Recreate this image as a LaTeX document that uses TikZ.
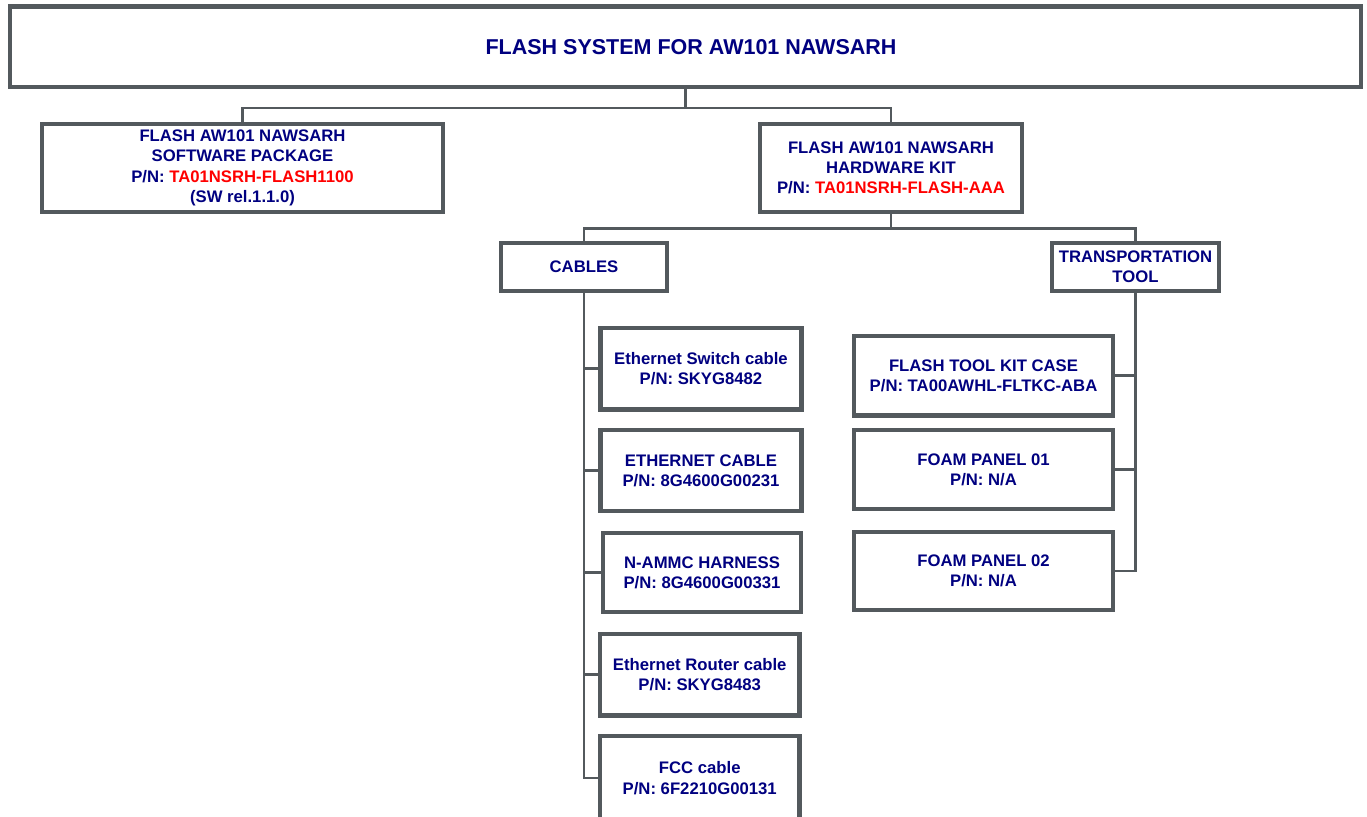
\documentclass[tikz,border=0pt]{standalone}
\usepackage{fontspec}
\setmainfont{Liberation Sans}
\definecolor{linegray}{HTML}{53595D}
\definecolor{txtnavy}{HTML}{000080}
\definecolor{pnred}{HTML}{FF0000}
\begin{document}
\begin{tikzpicture}[x=1pt,y=-1pt,
  box/.style={draw=linegray, line width=4.3pt, fill=white, inner sep=0pt, align=center,
    text=txtnavy, font=\bfseries\fontsize{16.7}{20.3}\selectfont},
  conn/.style={draw=linegray, line width=2.6pt}]
\useasboundingbox (0,0) rectangle (1367,816);
% nodes
\node[box, minimum width=1351pt, minimum height=80.5pt, font=\bfseries\fontsize{21.5}{25}\selectfont] (top) at (685.5,46.75) {\hspace*{11pt}FLASH SYSTEM FOR AW101 NAWSARH};
\node[box, minimum width=401pt, minimum height=88pt] (sw) at (242.5,168) {FLASH AW101 NAWSARH\\ SOFTWARE PACKAGE\\P/N: \textcolor{pnred}{TA01NSRH-FLASH1100}\\(SW rel.1.1.0)};
\node[box, minimum width=262pt, minimum height=88pt] (hw) at (891,168) {FLASH AW101 NAWSARH\\HARDWARE KIT\\P/N: \textcolor{pnred}{TA01NSRH-FLASH-AAA}};
\node[box, minimum width=166.5pt, minimum height=47.5pt] (cables) at (584,267) {CABLES};
\node[box, minimum width=167pt, minimum height=47.5pt] (trans) at (1135.5,267) {TRANSPORTATION\\TOOL};
\node[box, minimum width=201pt, minimum height=81.5pt] (c1) at (701,368.75) {Ethernet Switch cable\\P/N: SKYG8482};
\node[box, minimum width=201pt, minimum height=81pt] (c2) at (701,470.5) {ETHERNET CABLE\\P/N: 8G4600G00231};
\node[box, minimum width=198pt, minimum height=79pt] (c3) at (702,572.5) {N-AMMC HARNESS\\P/N: 8G4600G00331};
\node[box, minimum width=199.5pt, minimum height=81.5pt] (c4) at (699.75,674.75) {Ethernet Router cable\\P/N: SKYG8483};
\node[box, minimum width=199.5pt, minimum height=84pt] (c5) at (699.75,778) {FCC cable\\P/N: 6F2210G00131};
\node[box, minimum width=259pt, minimum height=79.5pt] (t1) at (983.5,375.75) {FLASH TOOL KIT CASE\\P/N: TA00AWHL-FLTKC-ABA};
\node[box, minimum width=259pt, minimum height=79pt] (t2) at (983.5,469.5) {FOAM PANEL 01\\P/N: N/A};
\node[box, minimum width=259pt, minimum height=78pt] (t3) at (983.5,571) {FOAM PANEL 02\\P/N: N/A};
% junctions
\coordinate (j1) at (685.5,108);
\coordinate (j2) at (891,228.5);
% connectors
\draw[conn] (top.south) -- (j1);
\draw[conn] (sw.north) |- (j1) -| (hw.north);
\draw[conn] (hw.south) -- (j2);
\draw[conn] (cables.north) |- (j2) -| (trans.north);
\draw[conn] (cables.south) |- (c5.west);
\draw[conn] (cables.south |- c1.west) -- (c1.west);
\draw[conn] (cables.south |- c2.west) -- (c2.west);
\draw[conn] (cables.south |- c3.west) -- (c3.west);
\draw[conn] (cables.south |- c4.west) -- (c4.west);
\draw[conn] (trans.south) |- (t3.east);
\draw[conn] (trans.south |- t1.east) -- (t1.east);
\draw[conn] (trans.south |- t2.east) -- (t2.east);
\end{tikzpicture}
\end{document}
